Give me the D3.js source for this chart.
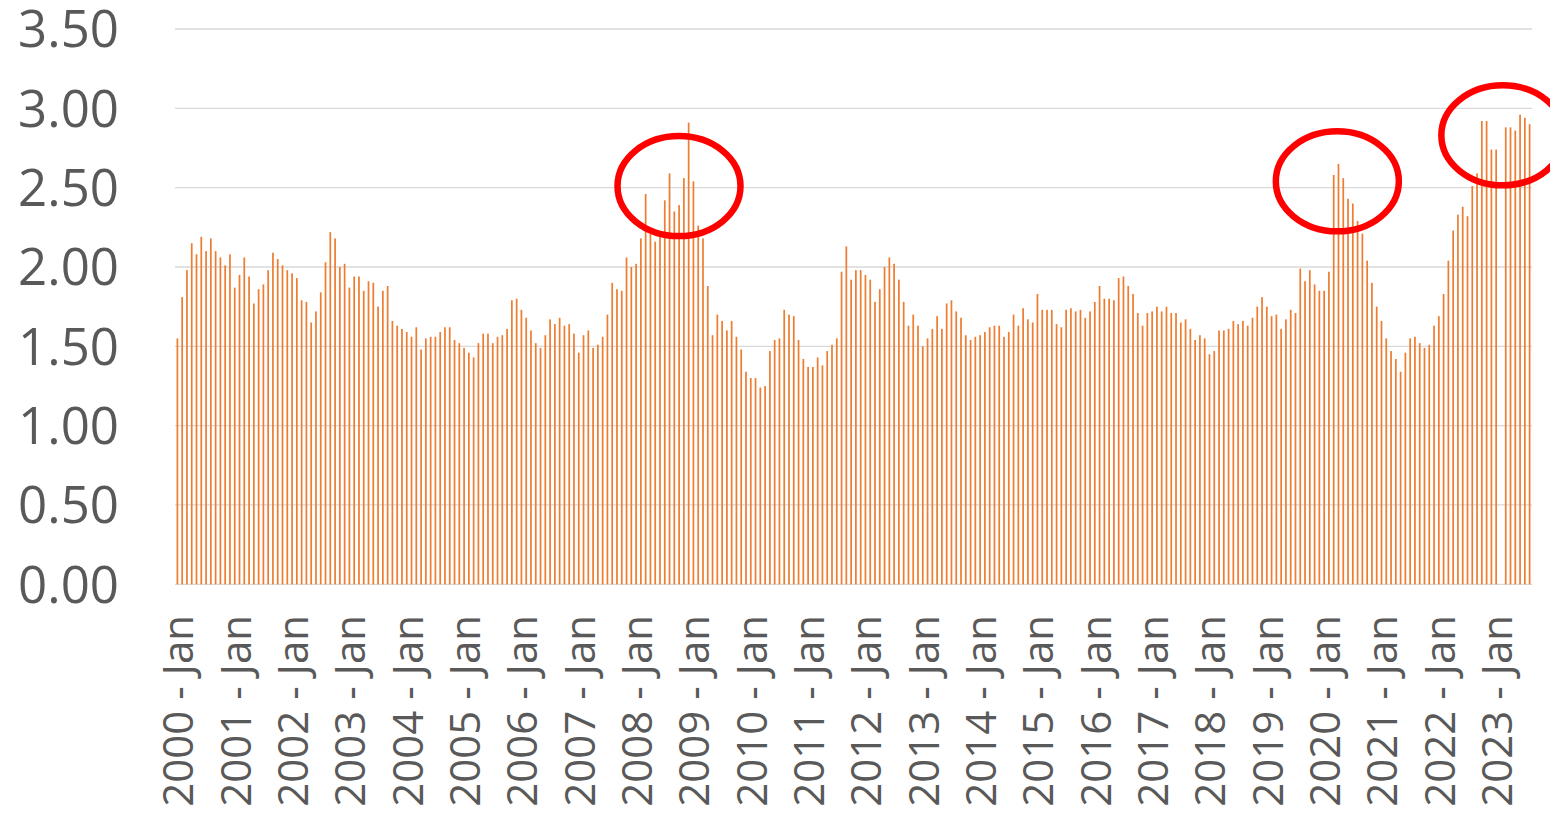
<!DOCTYPE html>
<html>
<head>
<meta charset="utf-8">
<script src="https://cdn.jsdelivr.net/npm/d3@7"></script>
<style>
  html, body { margin: 0; padding: 0; background: #fff; }
  svg { display: block; }
  text { font-family: "Open Sans", sans-serif; fill: #595959; }
</style>
</head>
<body>
<svg width="1550" height="813"></svg>
<script>

const years = d3.range(2000, 2024)
const months = ["Jan", "Feb", "Mar", "Apr", "May", "Jun", "Jul", "Aug", "Sep", "Oct", "Nov", "Dec"]

// monthly values, 2000 Jan .. 2023 Aug (2023 Feb has no value)
const values = [
  1.55, 1.81, 1.98, 2.15, 2.08, 2.19, 2.10, 2.18, 2.10, 2.06, 2.01, 2.08,
  1.87, 1.95, 2.06, 1.94, 1.77, 1.86, 1.89, 1.98, 2.09, 2.05, 2.01, 1.98,
  1.96, 1.93, 1.79, 1.78, 1.65, 1.72, 1.84, 2.03, 2.22, 2.18, 2.00, 2.02,
  1.87, 1.94, 1.94, 1.85, 1.91, 1.90, 1.75, 1.85, 1.88, 1.66, 1.63, 1.61,
  1.59, 1.56, 1.62, 1.48, 1.55, 1.56, 1.56, 1.59, 1.62, 1.62, 1.54, 1.52,
  1.49, 1.46, 1.43, 1.52, 1.58, 1.58, 1.52, 1.56, 1.57, 1.61, 1.79, 1.80,
  1.73, 1.68, 1.60, 1.52, 1.49, 1.57, 1.67, 1.64, 1.68, 1.63, 1.64, 1.58,
  1.46, 1.57, 1.60, 1.49, 1.51, 1.56, 1.70, 1.90, 1.86, 1.85, 2.06, 2.00,
  2.02, 2.18, 2.46, 2.21, 2.16, 2.20, 2.42, 2.59, 2.35, 2.39, 2.56, 2.91,
  2.54, 2.26, 2.18, 1.88, 1.57, 1.70, 1.66, 1.60, 1.66, 1.56, 1.48, 1.34,
  1.30, 1.30, 1.24, 1.25, 1.47, 1.54, 1.55, 1.73, 1.70, 1.69, 1.54, 1.42,
  1.37, 1.37, 1.43, 1.38, 1.47, 1.51, 1.55, 1.97, 2.13, 1.92, 1.98, 1.98,
  1.95, 1.92, 1.78, 1.86, 2.00, 2.06, 2.02, 1.92, 1.78, 1.63, 1.70, 1.63,
  1.50, 1.55, 1.61, 1.69, 1.61, 1.77, 1.79, 1.72, 1.68, 1.57, 1.54, 1.56,
  1.57, 1.59, 1.62, 1.63, 1.63, 1.56, 1.59, 1.70, 1.63, 1.74, 1.67, 1.65,
  1.83, 1.73, 1.73, 1.73, 1.64, 1.62, 1.73, 1.74, 1.72, 1.73, 1.68, 1.72,
  1.78, 1.88, 1.80, 1.80, 1.79, 1.93, 1.94, 1.88, 1.83, 1.71, 1.63, 1.71,
  1.72, 1.75, 1.72, 1.75, 1.71, 1.71, 1.65, 1.67, 1.61, 1.54, 1.57, 1.55,
  1.45, 1.47, 1.60, 1.60, 1.61, 1.66, 1.64, 1.66, 1.63, 1.68, 1.75, 1.81,
  1.75, 1.69, 1.70, 1.61, 1.67, 1.73, 1.71, 1.99, 1.91, 1.98, 1.89, 1.85,
  1.85, 1.97, 2.58, 2.65, 2.56, 2.43, 2.40, 2.29, 2.21, 2.04, 1.90, 1.75,
  1.66, 1.55, 1.47, 1.42, 1.34, 1.46, 1.55, 1.56, 1.52, 1.49, 1.51, 1.63,
  1.69, 1.83, 2.04, 2.23, 2.33, 2.38, 2.32, 2.51, 2.59, 2.92, 2.92, 2.74,
  2.74, null, 2.88, 2.88, 2.86, 2.96, 2.94, 2.90
]

const categories = years.flatMap(y => months.map(m => y + " - " + m)).slice(0, values.length)
const tickLabels = categories.filter(c => c.endsWith("Jan"))

const yTicks = [0, 0.5, 1, 1.5, 2, 2.5, 3, 3.5]

// red circles around the peaks (centre as category position and value)
const highlights = [
  { at: 104.98, value: 2.51 },
  { at: 242.76, value: 2.54 },
  { at: 277.4, value: 2.83 },
]

document.addEventListener("DOMContentLoaded", () => {

  const left = 175
  const right = 1532
  const top = 29
  const bottom = 584.3

  const svg = d3.select("svg")

  const x = d3.scaleBand()
    .domain(categories)
    .range([left, right])
    .paddingInner(0.64)
    .paddingOuter(0.32)

  const xPos = d3.scaleLinear()
    .domain([0, categories.length - 1])
    .range([x(categories[0]) + x.bandwidth() / 2, x(categories[categories.length - 1]) + x.bandwidth() / 2])

  const y = d3.scaleLinear()
    .domain([0, 3.5])
    .range([bottom, top])

  // gridlines
  svg.append("g")
    .selectAll("line")
    .data(yTicks)
    .enter()
    .append("line")
      .attr("x1", left)
      .attr("x2", right)
      .attr("y1", d => y(d))
      .attr("y2", d => y(d))
      .attr("stroke", "#D9D9D9")
      .attr("stroke-width", 1.3)

  // y labels
  svg.append("g")
    .selectAll("text")
    .data(yTicks)
    .enter()
    .append("text")
      .attr("x", 119)
      .attr("y", d => y(d))
      .attr("dy", "0.357em")
      .attr("text-anchor", "end")
      .style("font-size", "51px")
      .text(d3.format(".2f"))

  // bars
  svg.append("g")
    .selectAll("rect")
    .data(values.map((v, i) => ({ c: categories[i], v })).filter(d => d.v != null))
    .enter()
    .append("rect")
      .attr("x", d => x(d.c))
      .attr("width", x.bandwidth())
      .attr("y", d => y(d.v))
      .attr("height", d => y(0) - y(d.v))
      .attr("fill", "#ED7D31")

  // x labels, one per January
  svg.append("g")
    .selectAll("text")
    .data(tickLabels)
    .enter()
    .append("text")
      .attr("transform", d => `translate(${x(d) + x.bandwidth() / 2 + 1},615) rotate(-90)`)
      .attr("dy", "0.357em")
      .attr("text-anchor", "end")
      .style("font-size", "42px")
      .text(d => d)

  // highlight ellipses
  svg.append("g")
    .selectAll("ellipse")
    .data(highlights)
    .enter()
    .append("ellipse")
      .attr("cx", d => xPos(d.at))
      .attr("cy", d => y(d.value))
      .attr("rx", 61.5)
      .attr("ry", 50)
      .attr("fill", "none")
      .attr("stroke", "#FF0000")
      .attr("stroke-width", 6.5)

})
</script>
</body>
</html>
